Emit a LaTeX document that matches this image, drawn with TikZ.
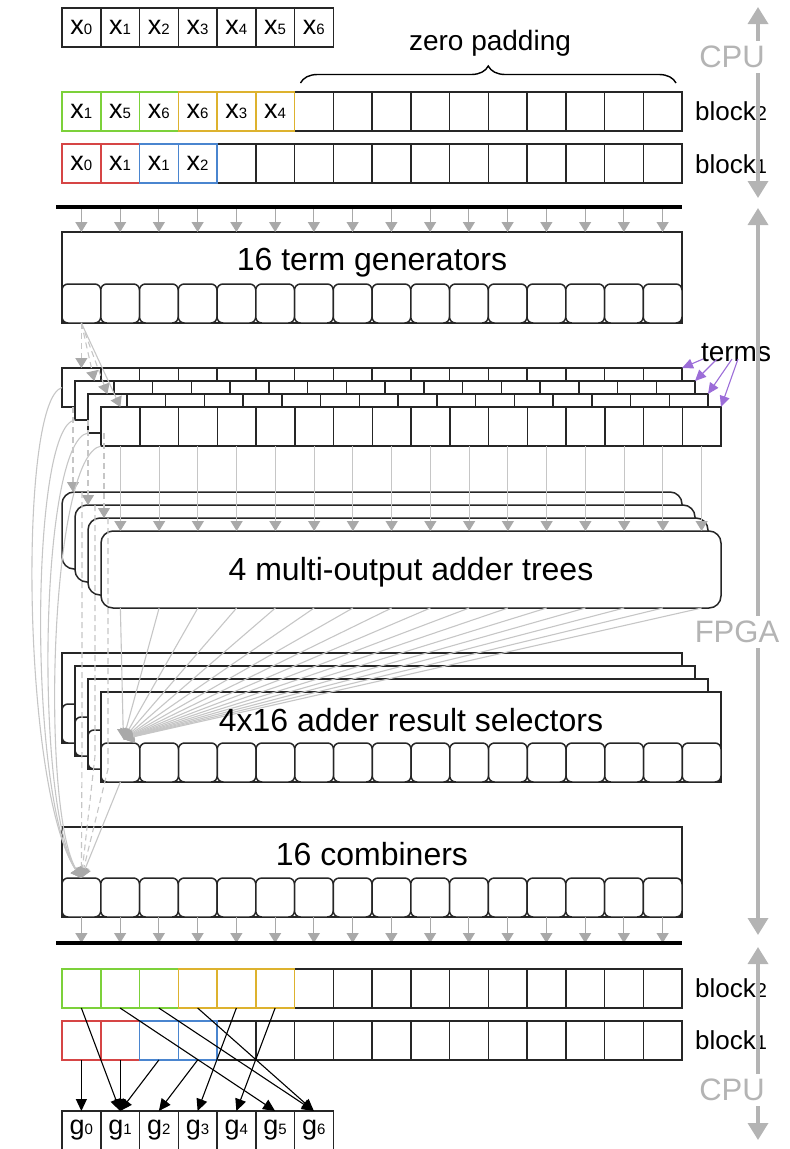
\documentclass[tikz,border=0pt]{standalone}
\usepackage{fontspec}
\setmainfont{Liberation Sans}
\usetikzlibrary{arrows.meta,positioning,calc,decorations.pathreplacing}
\definecolor{cgreen}{HTML}{7CD13A}
\definecolor{cyellow}{HTML}{DDB22E}
\definecolor{cred}{HTML}{D64545}
\definecolor{cblue}{HTML}{4A85CF}
\definecolor{linegray}{HTML}{C6C6C6}
\definecolor{tipgray}{HTML}{A9A9A9}
\definecolor{sidegray}{HTML}{B4B4B4}
\definecolor{termpurple}{HTML}{9C6DD8}
\newcommand{\cw}{38.75}% cell width
\newcommand{\idx}[3][15]{#2{\fontsize{#1pt}{#1pt}\selectfont #3}}% name + small index
\tikzset{
  cell/.style={draw=black!85,line width=1.5pt,fill=white,minimum width=38.75pt,
    minimum height=39pt,inner sep=0,outer sep=0,anchor=north west,
    font=\fontsize{27pt}{27pt}\selectfont},
  rcell/.style={cell,rounded corners=6pt},
  panel/.style={draw=black!85,line width=1.5pt,fill=white,minimum width=620pt,
    inner sep=0,outer sep=0,anchor=north west},
  bigtxt/.style={font=\fontsize{32pt}{32pt}\selectfont,anchor=base,inner sep=0},
  lbl/.style={font=\fontsize{26pt}{26pt}\selectfont,anchor=west,inner sep=0},
  sidetxt/.style={font=\fontsize{31pt}{31pt}\selectfont,text=sidegray,fill=white,inner sep=5pt},
  bus/.style={line width=4pt},
  garrow/.style={draw=tipgray,line width=1.2pt,-{Triangle[width=12pt,length=10pt]}},
  larrow/.style={draw=linegray,line width=1.1pt,-{Triangle[width=12pt,length=10pt,color=tipgray]}},
  ldash/.style={larrow,dash pattern=on 6pt off 4pt},
  parrow/.style={draw=termpurple,line width=1.1pt,-{Triangle[width=10pt,length=11pt]}},
  barrow/.style={line width=1.1pt,-{Triangle[width=11pt,length=12pt]}},
  sidearrow/.style={draw=sidegray,line width=3.5pt,
    {Triangle[width=20pt,length=17pt]}-{Triangle[width=20pt,length=17pt]}}
}
\begin{document}
\begin{tikzpicture}[x=1pt,y=-1pt]
  \useasboundingbox (0,0) rectangle (790,1149);
  % input values
  \foreach \v in {0,...,6}
    \node[cell] (in\v) at ({62+\v*\cw},8) {\idx{x}{\v}};
  % blocks sent by the CPU
  \foreach \i in {6,...,15}
    \node[cell] (ua\i) at ({62+\i*\cw},92) {};
  \foreach \v/\c [count=\i from 0] in {1/cgreen,5/cgreen,6/cgreen,6/cyellow,3/cyellow,4/cyellow}
    \node[cell,draw=\c] (ua\i) at ({62+\i*\cw},92) {\idx{x}{\v}};
  \foreach \i in {4,...,15}
    \node[cell] (ub\i) at ({62+\i*\cw},144) {};
  \foreach \v/\c [count=\i from 0] in {0/cred,1/cred,1/cblue,2/cblue}
    \node[cell,draw=\c] (ub\i) at ({62+\i*\cw},144) {\idx{x}{\v}};
  \node[lbl] (uatxt) at (695,111) {\idx[20]{block}{2}};
  \node[lbl] (ubtxt) at (695,164) {\idx[20]{block}{1}};
  \draw[decorate,decoration={brace,amplitude=17pt},line width=1.4pt]
    ($(ua6.north west)+(6,-9)$) -- ($(ua15.north east)+(-6,-9)$);
  \node[font=\fontsize{28pt}{28pt}\selectfont] (pad) at (490,43) {zero padding};
  % term generators
  \coordinate (busAl) at (56,207);
  \coordinate (busAr) at (682,207);
  \node[panel,minimum height=91pt] (gen) at (62,232) {};
  \foreach \i in {0,...,15}
    \node[rcell] (gc\i) at ({62+\i*\cw},284) {};
  \node[bigtxt] (gentxt) at (372,270) {16 term generators};
  \foreach \i in {0,...,15}
    \draw[garrow] (gc\i |- busAl) -- (gc\i |- gen.north);
  \draw[bus] (busAl) -- (busAr);
  % terms, four layers
  \foreach \ly in {0,...,3}
    \foreach \i in {0,...,15}
      \node[cell] (t\ly c\i) at ({62+13*\ly+\i*\cw},{368+13*\ly}) {};
  \foreach \ly in {0,1,2}
    \draw[ldash] (gc0.south) -- (t\ly c0.north);
  \draw[larrow] (gc0.south) -- (t3c0.north);
  \node[font=\fontsize{28pt}{28pt}\selectfont,inner sep=0] (terms) at (736,353) {terms};
  \foreach \ly/\sx in {0/703,1/717,2/732,3/738}{
    \coordinate (tp\ly) at (\sx,359);
    \draw[parrow] (tp\ly) -- (t\ly c15.north east);
  }
  % adder trees
  \foreach \ly in {0,...,3}
    \node[panel,rounded corners=12pt,minimum height=77pt] (add\ly) at ({62+13*\ly},{492+13*\ly}) {};
  \node[bigtxt] (addtxt) at (411,580) {4 multi-output adder trees};
  \foreach \i in {0,...,15}
    \draw[larrow] (t3c\i.south) -- (t3c\i.south |- add3.north);
  \foreach \ly/\dx in {0/11,1/13,2/16}{
    \coordinate (td\ly) at ($(t\ly c0.south west)+(\dx,0)$);
    \draw[ldash] (td\ly) -- (td\ly |- add\ly.north);
  }
  % result selectors
  \foreach \ly in {0,...,3}{
    \node[panel,minimum height=90pt] (sel\ly) at ({62+13*\ly},{653+13*\ly}) {};
    \foreach \i in {0,...,15}
      \node[rcell] (s\ly c\i) at ({62+13*\ly+\i*\cw},{704+13*\ly}) {};
  }
  % combiners
  \node[panel,minimum height=90pt] (comb) at (62,827) {};
  \foreach \i in {0,...,15}
    \node[rcell] (cc\i) at ({62+\i*\cw},878) {};
  \node[bigtxt] (combtxt) at (372,865) {16 combiners};
  % wiring between the stages
  \coordinate (fanend) at ($(s3c0.north)+(3,-4)$);
  \foreach \i in {0,...,15}
    \draw[larrow] (add3.south -| t3c\i) -- (fanend);
  \node[bigtxt] (seltxt) at (411,731) {4x16 adder result selectors};
  \foreach \ly in {0,1,2}{
    \coordinate (ad\ly) at ($(add\ly.north west)+(20,0)$);
    \draw[ldash] (ad\ly) -- (ad\ly |- sel\ly.south) -- (cc0.north);
  }
  \draw[larrow] (s3c0.south) -- (cc0.north);
  \draw[larrow] (t0c0.west) .. controls (18,400) and (22,790) .. (cc0.north);
  \draw[larrow] (t1c0.south west) .. controls (30,425) and (28,800) .. (cc0.north);
  \draw[larrow] (t2c0.south west) .. controls (40,440) and (34,805) .. (cc0.north);
  \draw[larrow] (t3c0.south west) .. controls (50,455) and (40,810) .. (cc0.north);
  \coordinate (busBl) at (56,943);
  \coordinate (busBr) at (682,943);
  \foreach \i in {0,...,15}
    \draw[garrow] (cc\i.south) -- (cc\i |- busBl);
  \draw[bus] (busBl) -- (busBr);
  % blocks returned to the CPU
  \foreach \i in {6,...,15}
    \node[cell] (la\i) at ({62+\i*\cw},969) {};
  \foreach \c [count=\i from 0] in {cgreen,cgreen,cgreen,cyellow,cyellow,cyellow}
    \node[cell,draw=\c] (la\i) at ({62+\i*\cw},969) {};
  \foreach \i in {4,...,15}
    \node[cell] (lb\i) at ({62+\i*\cw},1021) {};
  \foreach \c [count=\i from 0] in {cred,cred,cblue,cblue}
    \node[cell,draw=\c] (lb\i) at ({62+\i*\cw},1021) {};
  \node[lbl] (latxt) at (695,988) {\idx[20]{block}{2}};
  \node[lbl] (lbtxt) at (695,1040) {\idx[20]{block}{1}};
  \foreach \v in {0,...,6}
    \node[cell] (out\v) at ({62+\v*\cw},1111) {\idx{g}{\v}};
  \foreach \a/\b in {lb0/out0,la0/out1,lb1/out1,lb2/out1,lb3/out2,la4/out3,la5/out4,la1/out5,la2/out6,la3/out6}
    \draw[barrow] (\a.south) -- (\b.north);
  % CPU / FPGA ranges
  \coordinate (cpuAt) at (758,7);
  \coordinate (cpuAb) at (758,198);
  \coordinate (fpgat) at (758,208);
  \coordinate (fpgab) at (758,935);
  \coordinate (cpuBt) at (758,947);
  \coordinate (cpuBb) at (758,1140);
  \draw[sidearrow] (cpuAt) -- (cpuAb);
  \draw[sidearrow] (fpgat) -- (fpgab);
  \draw[sidearrow] (cpuBt) -- (cpuBb);
  \node[sidetxt] (cpuA) at (732,57) {CPU};
  \node[sidetxt] (fpga) at (737,632) {FPGA};
  \node[sidetxt] (cpuB) at (732,1090) {CPU};
\end{tikzpicture}
\end{document}
